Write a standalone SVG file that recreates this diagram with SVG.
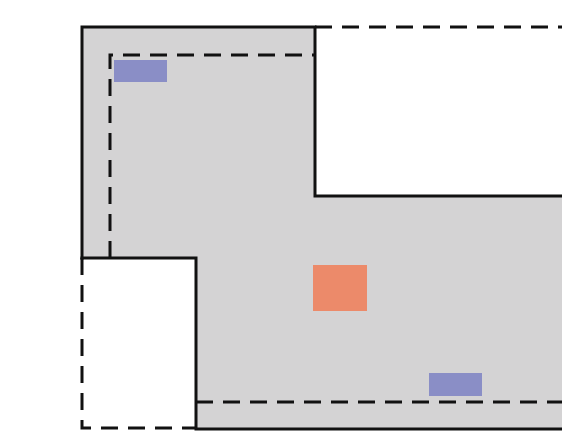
<svg xmlns="http://www.w3.org/2000/svg" width="562" height="432" viewBox="0 0 562 432">
<style>
.solid{fill:none;stroke:#111;stroke-width:3;stroke-linecap:square}
.dash{fill:none;stroke:#111;stroke-width:3;stroke-dasharray:17 10}
.blue{fill:#8a8ec6}
.orange{fill:#ec8a6a}
</style>
<rect width="562" height="432" fill="#fff"/>
<g id="floor">
<path d="M82 27H315V196H562V429H196V258H82Z" fill="#d4d3d4"/>
</g>
<g id="walls">
<path class="solid" d="M82 258V27H315V196H562"/>
<path class="solid" d="M82 258H196V429H562"/>
<path class="dash" d="M315 27H562"/>
<path class="dash" d="M110 258V55H315"/>
<path class="dash" d="M82 258V428H196"/>
<path class="dash" d="M196 402H562"/>
</g>
<g id="marks">
<rect id="blue-top" class="blue" x="114" y="60" width="53" height="22"/>
<rect id="blue-bottom" class="blue" x="429" y="373" width="53" height="23"/>
<rect id="orange" class="orange" x="313" y="265" width="54" height="46"/>
</g>
</svg>
